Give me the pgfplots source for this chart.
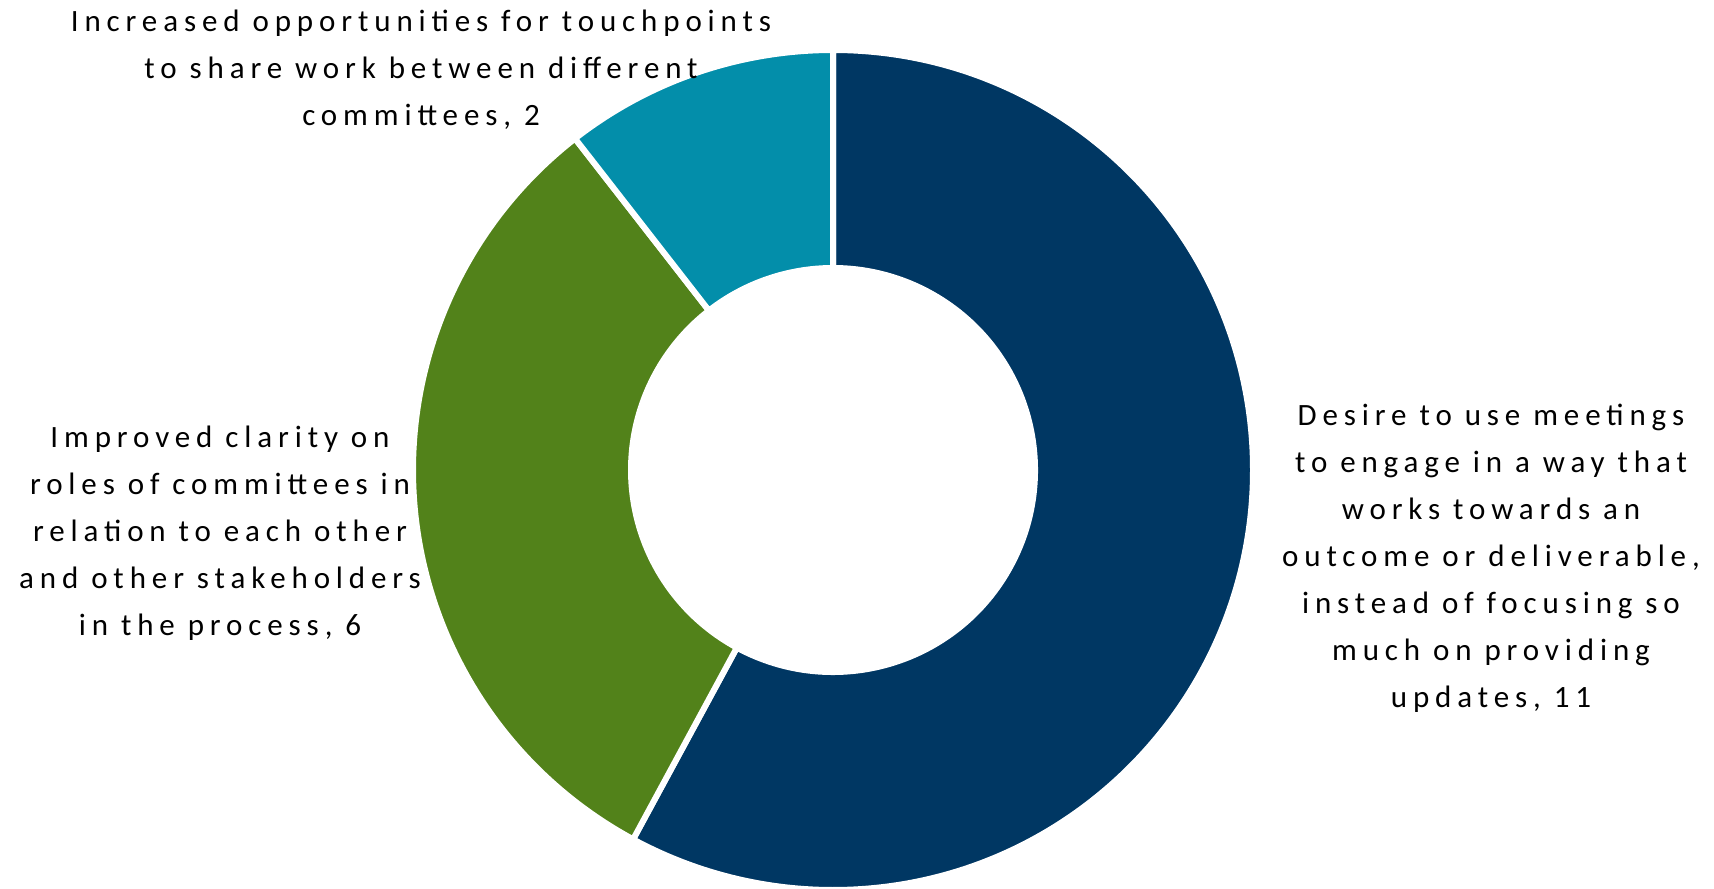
\documentclass[border=0pt]{standalone}
\usepackage{fontspec}
\setmainfont{Carlito}
\newfontfamily\lblfont[LetterSpace=19]{Carlito}
\usepackage{pgfplots}
\usepackage{pgfplotstable}
\pgfplotsset{compat=1.18}
\definecolor{cNavy}{HTML}{003763}
\definecolor{cGreen}{HTML}{52821A}
\definecolor{cTeal}{HTML}{038EAA}
\pgfplotstableread{
value color
11 cNavy
6 cGreen
2 cTeal
}\donutdata
\def\total{0}%
\pgfplotsforeachungrouped \i in {0,1,2} {%
  \pgfplotstablegetelem{\i}{value}\of\donutdata
  \pgfmathsetmacro\total{\total+\pgfplotsretval}%
}%
\def\cum{0}%
\pgfplotsforeachungrouped \i in {0,1,2} {%
  \pgfplotstablegetelem{\i}{value}\of\donutdata
  \pgfmathsetmacro\startang{90-360*\cum/\total}%
  \pgfmathsetmacro\cum{\cum+\pgfplotsretval}%
  \pgfmathsetmacro\endang{90-360*\cum/\total}%
  \expandafter\let\csname sa\i\endcsname\startang
  \expandafter\let\csname ea\i\endcsname\endang
  \pgfplotstablegetelem{\i}{color}\of\donutdata
  \colorlet{segcol\i}{\pgfplotsretval}%
}%
\begin{document}
\begin{tikzpicture}
\useasboundingbox (0,0) rectangle (857pt,444.5pt);
\begin{axis}[scale only axis, width=857pt, height=444.5pt, at={(0,0)}, anchor=south west,
  xmin=0, xmax=1714, ymin=0, ymax=889, hide axis, clip=false]
\pgfplotsinvokeforeach{0,1,2}{
  \fill[fill=segcol#1, draw=white, line width=3pt, line join=miter]
    (axis cs:833,419) ++(\csname sa#1\endcsname:210pt)
    arc[start angle=\csname sa#1\endcsname, end angle=\csname ea#1\endcsname, radius=210pt]
    -- ([shift={(\csname ea#1\endcsname:101pt)}]axis cs:833,419)
    arc[start angle=\csname ea#1\endcsname, end angle=\csname sa#1\endcsname, radius=101pt]
    -- cycle;
}
\node[align=center, font=\lblfont\fontsize{15.5}{23.5}\selectfont] at (axis cs:421,819)
  {Increased opportunities for touchpoints\\to share work between different\\committees, 2};
\node[align=center, font=\lblfont\fontsize{15.5}{23.5}\selectfont] at (axis cs:220,356)
  {Improved clarity on\\roles of committees in\\relation to each other\\and other stakeholders\\in the process, 6};
\node[align=center, font=\lblfont\fontsize{15.5}{23.5}\selectfont] at (axis cs:1491,331)
  {Desire to use meetings\\to engage in a way that\\works towards an\\outcome or deliverable,\\instead of focusing so\\much on providing\\updates, 11};
\end{axis}
\end{tikzpicture}
\end{document}
